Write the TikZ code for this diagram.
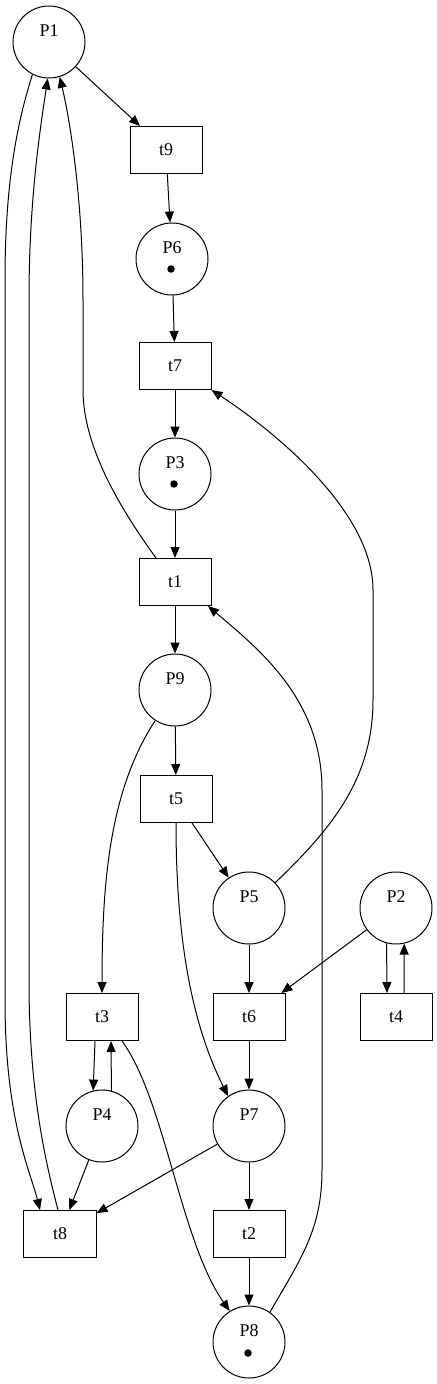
\documentclass[tikz,border=0pt]{standalone}
\usepackage{fontspec}
\setmainfont{Liberation Serif}
\usetikzlibrary{arrows.meta}
\newcommand\netfont{\fontsize{18}{21}\selectfont}

\begin{document}
\begin{tikzpicture}[x=1bp,y=1bp,line width=1bp,>={Triangle[length=11bp,width=9bp]}]
       \tikzstyle{place}=[circle,draw,minimum size=72bp,inner sep=0pt,text height=10.5bp,text depth=21bp,font=\netfont]
       \tikzstyle{transition}=[rectangle,draw,minimum width=72bp,minimum height=47bp,inner sep=0pt,font=\netfont]
       \tikzstyle{token}=[circle,fill,minimum size=7.5bp,inner sep=0pt]

       \useasboundingbox (0,0) rectangle (437,-1384);

       \node[place]      (P1) at (49,-42)    {P1};
       \node[transition] (t9) at (166,-150)  {t9};
       \node[place]      (P6) at (172,-259)  {P6};
       \node[transition] (t7) at (175,-366)  {t7};
       \node[place]      (P3) at (175,-474)  {P3};
       \node[transition] (t1) at (175,-582)  {t1};
       \node[place]      (P9) at (175,-690)  {P9};
       \node[transition] (t5) at (176,-799)  {t5};
       \node[place]      (P5) at (249,-908)  {P5};
       \node[place]      (P2) at (396,-908)  {P2};
       \node[transition] (t3) at (102,-1017) {t3};
       \node[transition] (t6) at (249,-1017) {t6};
       \node[transition] (t4) at (396,-1017) {t4};
       \node[place]      (P4) at (102,-1126) {P4};
       \node[place]      (P7) at (249,-1126) {P7};
       \node[transition] (t8) at (60,-1234)  {t8};
       \node[transition] (t2) at (249,-1234) {t2};
       \node[place]      (P8) at (249,-1342) {P8};

       \node[token] (P6tok) at ([xshift=-1bp,yshift=-10bp]P6.center) {};
       \node[token] (P3tok) at ([xshift=-1bp,yshift=-10bp]P3.center) {};
       \node[token] (P8tok) at ([xshift=-1bp,yshift=-11bp]P8.center) {};

       \path[->]
       (P1) edge (t9)
       (t9) edge (P6)
       (P6) edge (t7)
       (t7) edge (P3)
       (P3) edge (t1)
       (t1) edge (P9)
       (P9) edge (t5)
       (t5) edge (P5)
       (P5) edge (t6)
       (P2) edge (t6)
       (t6) edge (P7)
       (P7) edge (t2)
       (t2) edge (P8)
       (P4) edge (t8)
       (P7) edge (t8);

       \draw[->] (P2.255) -- ([xshift=-9bp]t4.north);
       \draw[->] ([xshift=8bp]t4.north) -- (P2.283);
       \draw[->] ([xshift=-7bp]t3.south) -- (P4.104);
       \draw[->] (P4.75) -- ([xshift=9bp]t3.south);

       % long arcs
       \draw[->] (P1.243) .. controls (18,-120) and (5,-180) .. (5,-280)
                 -- (5,-1000) .. controls (5,-1120) and (30,-1170) .. ([xshift=-20bp]t8.north);
       \draw[->] ([xshift=-2bp]t8.north) .. controls (45,-1160) and (29,-1090) .. (29,-980)
                 -- (29,-300) .. controls (29,-200) and (40,-130) .. (P1.268);
       \draw[->] ([xshift=-19bp]t1.north) .. controls (125,-515) and (83,-450) .. (83,-390)
                 -- (83,-300) .. controls (83,-200) and (70,-120) .. (P1.287);
       \draw[->] (P5.44) .. controls (330,-830) and (373,-780) .. (373,-700)
                 -- (373,-590) .. controls (373,-510) and (271,-429) .. (t7.south east);
       \draw[->] (P8.55) .. controls (300,-1260) and (322,-1230) .. (322,-1170)
                 -- (322,-790) .. controls (322,-700) and (260,-650) .. ([xshift=33bp]t1.south);
       \draw[->] (P9.237) .. controls (110,-790) and (102,-880) .. (t3.north);
       \draw[->] (t5.south) .. controls (176,-950) and (195,-1030) .. (P7.125);
       \draw[->] ([xshift=20bp]t3.south) .. controls (165,-1100) and (180,-1240) .. (P8.122);
     \end{tikzpicture}
\end{document}
